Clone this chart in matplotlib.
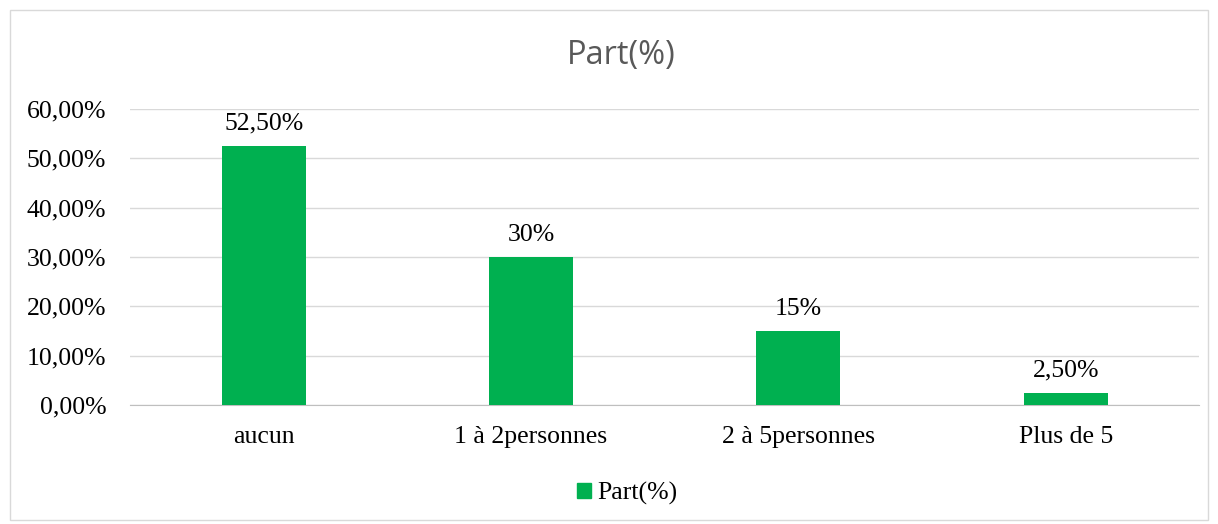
import matplotlib.pyplot as plt
from matplotlib.patches import Rectangle

categories = ["aucun", "1 à 2personnes", "2 à 5personnes", "Plus de 5"]
values = [0.525, 0.30, 0.15, 0.025]
value_labels = ["52,50%", "30%", "15%", "2,50%"]
yticks = [0.0, 0.1, 0.2, 0.3, 0.4, 0.5, 0.6]
ytick_labels = ["0,00%", "10,00%", "20,00%", "30,00%", "40,00%", "50,00%", "60,00%"]

green = "#00B050"
serif = ["Liberation Serif", "DejaVu Serif"]

fig = plt.figure(figsize=(12.18, 5.24), dpi=100)
fig.patches.append(Rectangle((10 / 1218, 4 / 524), 1198 / 1218, 510 / 524,
                             transform=fig.transFigure, fill=False,
                             edgecolor="#D9D9D9", linewidth=1))

ax = fig.add_axes([0.1067, 0.227, 0.878, 0.565])
x = range(len(categories))
ax.bar(x, values, width=0.315, color=green, zorder=3)

for i, v in enumerate(values):
    ax.annotate(value_labels[i], (i, v), xytext=(0, 8), textcoords="offset points",
                ha="center", va="bottom", fontsize=18.5, family=serif)

ax.set_ylim(0, 0.6)
ax.set_xlim(-0.5, 3.5)
ax.set_yticks(yticks)
ax.set_yticklabels(ytick_labels, family=serif, fontsize=18.5)
ax.set_xticks(list(x))
ax.set_xticklabels(categories, family=serif, fontsize=18.5)
ax.tick_params(axis="y", length=0, pad=17)
ax.tick_params(axis="x", length=0, pad=15)
ax.grid(axis="y", color="#D9D9D9", linewidth=1, zorder=0)
for s in ["top", "right", "left"]:
    ax.spines[s].set_visible(False)
ax.spines["bottom"].set_color("#BFBFBF")

fig.text(0.51, 0.895, "Part(%)", ha="center", va="center", fontsize=23.5,
         color="#595959", family=["Open Sans", "DejaVu Sans"])

leg = fig.legend([Rectangle((0, 0), 1, 1, color=green)], ["Part(%)"],
                 loc="center", bbox_to_anchor=(0.515, 0.058), frameon=False,
                 prop={"family": serif, "size": 18.5}, handlelength=0.55,
                 handleheight=0.55, handletextpad=0.25)

fig.savefig("out.png", dpi=100)
